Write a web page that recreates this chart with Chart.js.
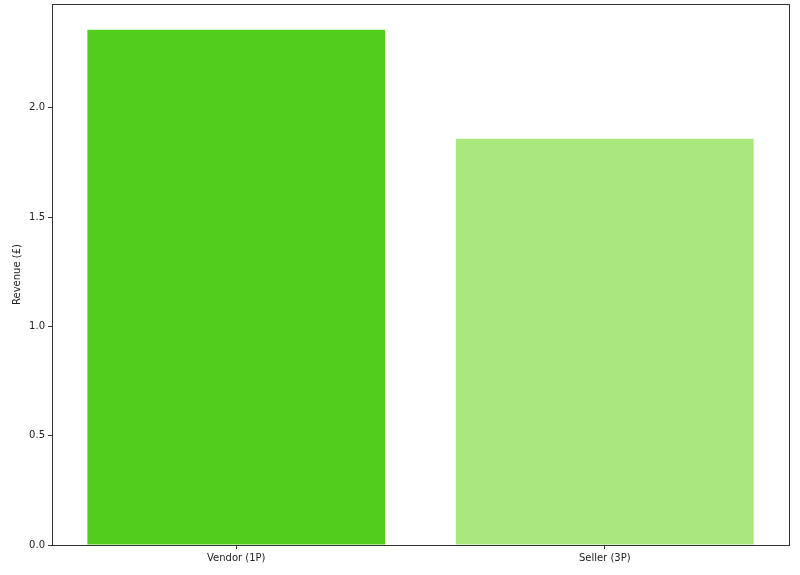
<!DOCTYPE html>
<html>
<head>
<meta charset="utf-8">
<script src="https://cdn.jsdelivr.net/npm/chart.js@4"></script>
<style>
  html, body { margin: 0; padding: 0; background: #fff; }
  #wrap { width: 800px; height: 575px; }
</style>
</head>
<body>
<div id="wrap"><canvas id="chart" width="800" height="575"></canvas></div>
<script>
var categories = ["Vendor (1P)", "Seller (3P)"];
var revenue = [2.357, 1.858];
var barColors = ["#52cd1e", "#a9e67c"];
var yTicks = [0, 0.5, 1.0, 1.5, 2.0];

// frame round the plot area, like the matplotlib axes box
var frame = {
  id: "frame",
  afterDraw: function(chart) {
    var a = chart.chartArea;
    var ctx = chart.ctx;
    ctx.save();
    ctx.strokeStyle = "#333";
    ctx.lineWidth = 1;
    ctx.strokeRect(a.left + 0.5, a.top + 0.5, a.right - a.left, a.bottom - a.top);
    ctx.restore();
  }
};

Chart.defaults.font.family = "DejaVu Sans";
Chart.defaults.font.size = 10;
Chart.defaults.color = "#222";

new Chart(document.getElementById("chart"), {
  type: "bar",
  data: {
    labels: categories,
    datasets: [{
      data: revenue,
      backgroundColor: barColors,
      borderWidth: 0,
      categoryPercentage: 1.0,
      barPercentage: 0.808
    }]
  },
  options: {
    responsive: false,
    animation: false,
    layout: { padding: { top: 4, right: 11, left: 0, bottom: 0 } },
    plugins: { legend: { display: false }, tooltip: { enabled: false } },
    scales: {
      x: {
        offset: true,
        grid: { display: true, offset: false, drawOnChartArea: false, tickLength: 4, color: "#333" },
        border: { display: false },
        ticks: { padding: 3 },
        afterFit: function(s) { s.height = 30; }
      },
      y: {
        min: 0,
        max: 2.475,
        afterBuildTicks: function(s) {
          s.ticks = yTicks.map(function(v) { return { value: v }; });
        },
        grid: { display: true, drawOnChartArea: false, tickLength: 4, color: "#333" },
        border: { display: false },
        ticks: {
          padding: 3,
          callback: function(v) { return v.toFixed(1); }
        },
        title: { display: true, text: "Revenue (£)", padding: { top: 11, bottom: 4 } },
        afterFit: function(s) {
          s.width = 52;
          s.paddingTop = 0;
          s.paddingBottom = 0;
        }
      }
    }
  },
  plugins: [frame]
});
</script>
</body>
</html>
